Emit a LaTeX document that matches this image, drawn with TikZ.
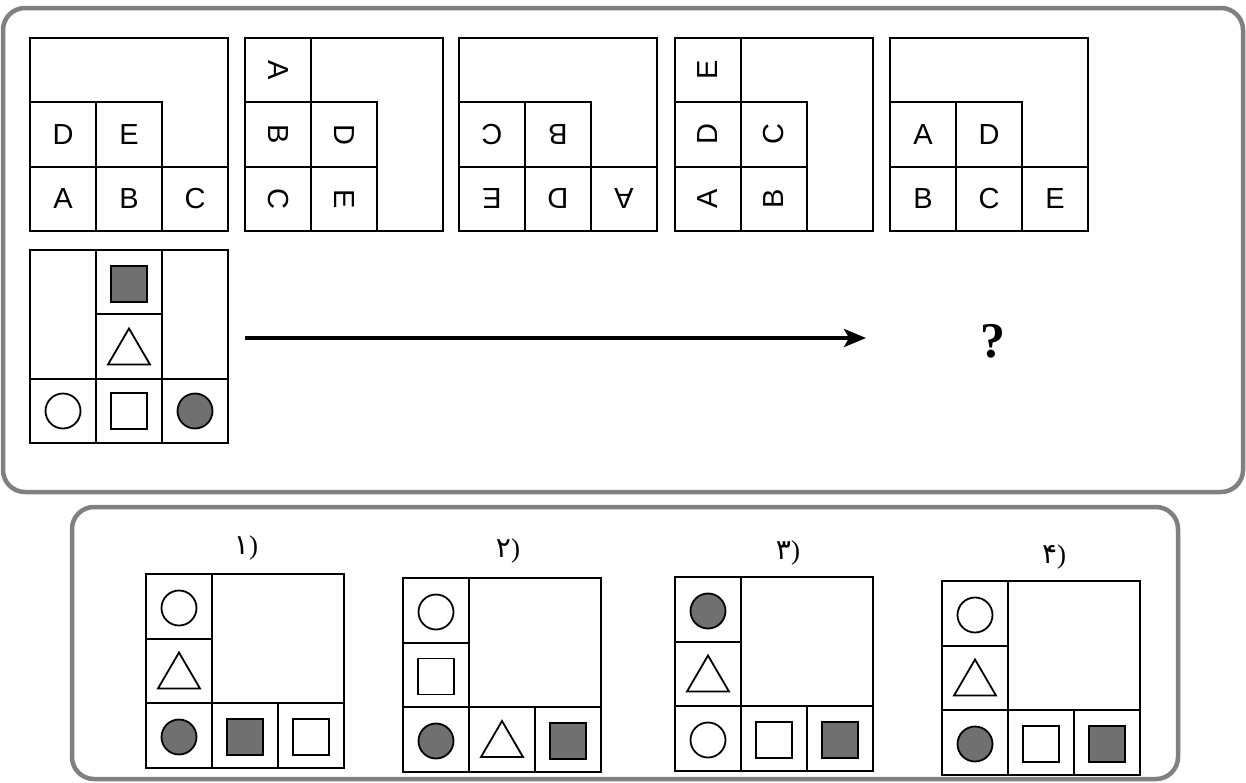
\documentclass[tikz,border=0pt]{standalone}
\usepackage{fontspec}
\setmainfont{Liberation Sans}
\newfontfamily\digitfont{DejaVu Sans}
\newfontfamily\qfont{Liberation Serif}
\usetikzlibrary{arrows.meta}
\definecolor{framegray}{RGB}{128,128,128}
\definecolor{shapegray}{RGB}{112,112,112}

% grid layouts (x0,y0 = top-left corner in pixel coordinates)
\newcommand\layL[2]{%
  \draw[gl] (#1,#2) rectangle ++(198,193);
  \draw[gl] (#1,#2+64.3) -- ++(132,0) -- ++(0,128.7);
  \draw[gl] (#1,#2+128.7) -- ++(198,0);
  \draw[gl] (#1+66,#2+64.3) -- ++(0,128.7);}
\newcommand\layR[2]{%
  \draw[gl] (#1,#2) rectangle ++(198,193);
  \draw[gl] (#1+66,#2) -- ++(0,193);
  \draw[gl] (#1,#2+64.3) -- ++(132,0) -- ++(0,128.7);
  \draw[gl] (#1,#2+128.7) -- ++(132,0);}
\newcommand\layQ[2]{%
  \draw[gl] (#1,#2) rectangle ++(198,193);
  \draw[gl] (#1+66,#2) -- ++(0,193);
  \draw[gl] (#1+132,#2) -- ++(0,193);
  \draw[gl] (#1+66,#2+64.3) -- ++(66,0);
  \draw[gl] (#1,#2+128.7) -- ++(198,0);}
\newcommand\layO[2]{%
  \draw[gl] (#1,#2) rectangle ++(198,194);
  \draw[gl] (#1+66,#2) -- ++(0,194);
  \draw[gl] (#1,#2+64.5) -- ++(66,0);
  \draw[gl] (#1,#2+129) -- ++(198,0);
  \draw[gl] (#1+132,#2+129) -- ++(0,65);}
% letter in a cell: name, x0, y0, col, row, rotation, text
\newcommand\lt[7]{%
  \node[letter, rotate=#6] (#1) at ({#2+33+66*(#4-1)},{#3+32.2+64.3*(#5-1)}) {#7};}
% shape in a cell: name, style, x0, y0, col, row
\newcommand\sh[6]{%
  \node[#2] (#1) at ({#3+33+66*(#5-1)},{#4+34+64.5*(#6-1)}) {};}
% triangle in a cell: x0, y0, col, row
\newcommand\tri[4]{%
  \begin{scope}[shift={({#1+33+66*(#3-1)},{#2+32+64.5*(#4-1)})}]
    \draw[shp] (-21,18) -- (0,-18) -- (21,18) -- cycle;
  \end{scope}}
% option label: Persian digit followed by a parenthesis
\newcommand\optlbl[1]{{\digitfont\fontsize{28}{28}\selectfont #1}{\qfont\fontsize{27}{27}\selectfont )}}

\begin{document}
\begin{tikzpicture}[x=1pt,y=-1pt,
  frame/.style={draw=framegray, line width=4.5pt, rounded corners=22pt},
  gl/.style={draw=black, line width=2pt},
  letter/.style={font=\fontsize{29}{29}\selectfont, inner sep=0pt},
  shp/.style={draw=black, line width=1.8pt, line join=miter},
  circ/.style={circle, draw=black, line width=1.8pt, minimum size=35pt, inner sep=0pt},
  gcirc/.style={circ, fill=shapegray},
  sqr/.style={rectangle, draw=black, line width=1.8pt, minimum size=36pt, inner sep=0pt},
  gsqr/.style={sqr, fill=shapegray},
  arr/.style={line width=3.5pt, -{Stealth[length=22pt,width=18pt,inset=5pt]}},
  lbl/.style={inner sep=0pt}]
\fill[white] (0,0) rectangle (1246,782);
\useasboundingbox (0,0) rectangle (1246,782);

% frames
\draw[frame] (3,8) rectangle (1243,492);
\draw[frame] (72,507) rectangle (1178,779);

% top row boxes
\layL{30}{38}
\lt{b1D}{30}{38}{1}{2}{0}{D}
\lt{b1E}{30}{38}{2}{2}{0}{E}
\lt{b1A}{30}{38}{1}{3}{0}{A}
\lt{b1B}{30}{38}{2}{3}{0}{B}
\lt{b1C}{30}{38}{3}{3}{0}{C}

\layR{245}{38}
\lt{b2A}{245}{38}{1}{1}{-90}{A}
\lt{b2B}{245}{38}{1}{2}{-90}{B}
\lt{b2C}{245}{38}{1}{3}{-90}{C}
\lt{b2D}{245}{38}{2}{2}{-90}{D}
\lt{b2E}{245}{38}{2}{3}{-90}{E}

\layL{459}{38}
\lt{b3C}{459}{38}{1}{2}{180}{C}
\lt{b3B}{459}{38}{2}{2}{180}{B}
\lt{b3E}{459}{38}{1}{3}{180}{E}
\lt{b3D}{459}{38}{2}{3}{180}{D}
\lt{b3A}{459}{38}{3}{3}{180}{A}

\layR{675}{38}
\lt{b4E}{675}{38}{1}{1}{90}{E}
\lt{b4D}{675}{38}{1}{2}{90}{D}
\lt{b4A}{675}{38}{1}{3}{90}{A}
\lt{b4C}{675}{38}{2}{2}{90}{C}
\lt{b4B}{675}{38}{2}{3}{90}{B}

\layL{890}{38}
\lt{b5A}{890}{38}{1}{2}{0}{A}
\lt{b5D}{890}{38}{2}{2}{0}{D}
\lt{b5B}{890}{38}{1}{3}{0}{B}
\lt{b5C}{890}{38}{2}{3}{0}{C}
\lt{b5E}{890}{38}{3}{3}{0}{E}

% question box
\layQ{30}{250}
\sh{qGs}{gsqr}{30}{250}{2}{1}
\tri{30}{250}{2}{2}
\sh{qC}{circ}{30}{248}{1}{3}
\sh{qS}{sqr}{30}{248}{2}{3}
\sh{qGc}{gcirc}{30}{248}{3}{3}

% arrow and question mark
\coordinate (aS) at (245,338);
\coordinate (aE) at (866,338);
\draw[arr] (aS) -- (aE);
\node[font=\qfont\bfseries\fontsize{50}{50}\selectfont, inner sep=0pt] (qm) at (993,341) {?};

% options
\node[lbl] (l1) at (246,548) {\optlbl{۱}};
\layO{146}{574}
\sh{o1a}{circ}{146}{574}{1}{1}
\tri{146}{574}{1}{2}
\sh{o1b}{gcirc}{146}{574}{1}{3}
\sh{o1c}{gsqr}{146}{574}{2}{3}
\sh{o1d}{sqr}{146}{574}{3}{3}

\node[lbl] (l2) at (508,551) {\optlbl{۲}};
\layO{403}{578}
\sh{o2a}{circ}{403}{578}{1}{1}
\sh{o2b}{sqr}{403}{578}{1}{2}
\sh{o2c}{gcirc}{403}{578}{1}{3}
\tri{403}{578}{2}{3}
\sh{o2d}{gsqr}{403}{578}{3}{3}

\node[lbl] (l3) at (788,553) {\optlbl{۳}};
\layO{675}{577}
\sh{o3a}{gcirc}{675}{577}{1}{1}
\tri{675}{577}{1}{2}
\sh{o3b}{circ}{675}{577}{1}{3}
\sh{o3c}{sqr}{675}{577}{2}{3}
\sh{o3d}{gsqr}{675}{577}{3}{3}

\node[lbl] (l4) at (1054,557) {\optlbl{۴}};
\layO{942}{581}
\sh{o4a}{circ}{942}{581}{1}{1}
\tri{942}{581}{1}{2}
\sh{o4b}{gcirc}{942}{581}{1}{3}
\sh{o4c}{sqr}{942}{581}{2}{3}
\sh{o4d}{gsqr}{942}{581}{3}{3}
\end{tikzpicture}
\end{document}
